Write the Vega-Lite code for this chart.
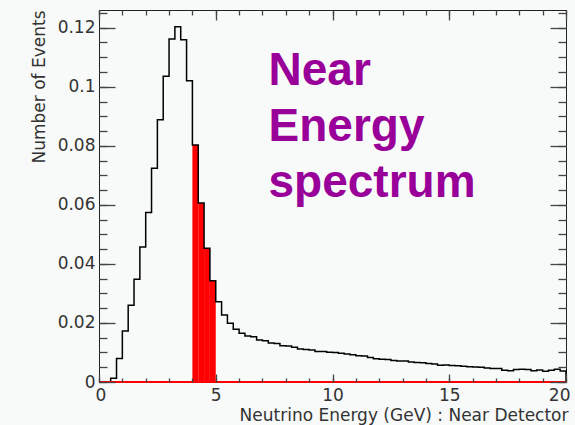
{
  "$schema": "https://vega.github.io/schema/vega-lite/v6.json",
  "width": 467,
  "height": 372,
  "autosize": {"type": "none"},
  "padding": {"left": 99, "top": 10, "right": 9, "bottom": 43},
  "background": "#f7faf8",
  "config": {
    "view": {"stroke": "#222", "strokeWidth": 1},
    "axis": {
      "grid": false,
      "domain": false,
      "labelFont": "DejaVu Sans",
      "labelFontSize": 17,
      "labelColor": "#333",
      "titleFont": "DejaVu Sans",
      "titleFontSize": 17,
      "titleColor": "#333",
      "titleFontWeight": "normal"
    }
  },
  "data": {
    "values": [
      {"lo": 0, "hi": 0.25, "n": 0},
      {"lo": 0.25, "hi": 0.5, "n": 0},
      {"lo": 0.5, "hi": 0.75, "n": 0.0013},
      {"lo": 0.75, "hi": 1.0, "n": 0.008},
      {"lo": 1.0, "hi": 1.25, "n": 0.0173},
      {"lo": 1.25, "hi": 1.5, "n": 0.026},
      {"lo": 1.5, "hi": 1.75, "n": 0.0348},
      {"lo": 1.75, "hi": 2.0, "n": 0.0457},
      {"lo": 2.0, "hi": 2.25, "n": 0.0574},
      {"lo": 2.25, "hi": 2.5, "n": 0.0724},
      {"lo": 2.5, "hi": 2.75, "n": 0.0888},
      {"lo": 2.75, "hi": 3.0, "n": 0.1036},
      {"lo": 3.0, "hi": 3.25, "n": 0.1162},
      {"lo": 3.25, "hi": 3.5, "n": 0.1203},
      {"lo": 3.5, "hi": 3.75, "n": 0.1159},
      {"lo": 3.75, "hi": 4.0, "n": 0.102},
      {"lo": 4.0, "hi": 4.25, "n": 0.0803},
      {"lo": 4.25, "hi": 4.5, "n": 0.0606},
      {"lo": 4.5, "hi": 4.75, "n": 0.0453},
      {"lo": 4.75, "hi": 5.0, "n": 0.0343},
      {"lo": 5.0, "hi": 5.25, "n": 0.0272},
      {"lo": 5.25, "hi": 5.5, "n": 0.0227},
      {"lo": 5.5, "hi": 5.75, "n": 0.0199},
      {"lo": 5.75, "hi": 6.0, "n": 0.0179},
      {"lo": 6.0, "hi": 6.25, "n": 0.0165},
      {"lo": 6.25, "hi": 6.5, "n": 0.0156},
      {"lo": 6.5, "hi": 6.75, "n": 0.0153},
      {"lo": 6.75, "hi": 7.0, "n": 0.0142},
      {"lo": 7.0, "hi": 7.25, "n": 0.014},
      {"lo": 7.25, "hi": 7.5, "n": 0.0132},
      {"lo": 7.5, "hi": 7.75, "n": 0.013},
      {"lo": 7.75, "hi": 8.0, "n": 0.0123},
      {"lo": 8.0, "hi": 8.25, "n": 0.0122},
      {"lo": 8.25, "hi": 8.5, "n": 0.0118},
      {"lo": 8.5, "hi": 8.75, "n": 0.0112},
      {"lo": 8.75, "hi": 9.0, "n": 0.011},
      {"lo": 9.0, "hi": 9.25, "n": 0.0108},
      {"lo": 9.25, "hi": 9.5, "n": 0.0103},
      {"lo": 9.5, "hi": 9.75, "n": 0.0103},
      {"lo": 9.75, "hi": 10.0, "n": 0.0101},
      {"lo": 10.0, "hi": 10.25, "n": 0.01},
      {"lo": 10.25, "hi": 10.5, "n": 0.0097},
      {"lo": 10.5, "hi": 10.75, "n": 0.0095},
      {"lo": 10.75, "hi": 11.0, "n": 0.0092},
      {"lo": 11.0, "hi": 11.25, "n": 0.0089},
      {"lo": 11.25, "hi": 11.5, "n": 0.0088},
      {"lo": 11.5, "hi": 11.75, "n": 0.0083},
      {"lo": 11.75, "hi": 12.0, "n": 0.0079},
      {"lo": 12.0, "hi": 12.25, "n": 0.0077},
      {"lo": 12.25, "hi": 12.5, "n": 0.0076},
      {"lo": 12.5, "hi": 12.75, "n": 0.0073},
      {"lo": 12.75, "hi": 13.0, "n": 0.0071},
      {"lo": 13.0, "hi": 13.25, "n": 0.0071},
      {"lo": 13.25, "hi": 13.5, "n": 0.0068},
      {"lo": 13.5, "hi": 13.75, "n": 0.0066},
      {"lo": 13.75, "hi": 14.0, "n": 0.0065},
      {"lo": 14.0, "hi": 14.25, "n": 0.0063},
      {"lo": 14.25, "hi": 14.5, "n": 0.0061},
      {"lo": 14.5, "hi": 14.75, "n": 0.0057},
      {"lo": 14.75, "hi": 15.0, "n": 0.0058},
      {"lo": 15.0, "hi": 15.25, "n": 0.0056},
      {"lo": 15.25, "hi": 15.5, "n": 0.0055},
      {"lo": 15.5, "hi": 15.75, "n": 0.0053},
      {"lo": 15.75, "hi": 16.0, "n": 0.0052},
      {"lo": 16.0, "hi": 16.25, "n": 0.0051},
      {"lo": 16.25, "hi": 16.5, "n": 0.005},
      {"lo": 16.5, "hi": 16.75, "n": 0.0047},
      {"lo": 16.75, "hi": 17.0, "n": 0.0046},
      {"lo": 17.0, "hi": 17.25, "n": 0.0046},
      {"lo": 17.25, "hi": 17.5, "n": 0.004},
      {"lo": 17.5, "hi": 17.75, "n": 0.0038},
      {"lo": 17.75, "hi": 18.0, "n": 0.0042},
      {"lo": 18.0, "hi": 18.25, "n": 0.0043},
      {"lo": 18.25, "hi": 18.5, "n": 0.0042},
      {"lo": 18.5, "hi": 18.75, "n": 0.0038},
      {"lo": 18.75, "hi": 19.0, "n": 0.0041},
      {"lo": 19.0, "hi": 19.25, "n": 0.0036},
      {"lo": 19.25, "hi": 19.5, "n": 0.004},
      {"lo": 19.5, "hi": 19.75, "n": 0.0043},
      {"lo": 19.75, "hi": 20.0, "n": 0.0037},
      {"lo": 20.0, "hi": 20.0, "n": 0}
    ]
  },
  "resolve": {"axis": {"x": "independent", "y": "independent"}},
  "layer": [
    {
      "transform": [{"filter": "datum.lo >= 4 && datum.lo < 5"}],
      "mark": {"type": "rect", "color": "#ff0000"},
      "encoding": {
        "x": {
          "field": "lo", "type": "quantitative",
          "scale": {"domain": [0, 20], "nice": false, "zero": false},
          "axis": {
            "orient": "bottom", "values": [0, 5, 10, 15, 20], "format": "d",
            "ticks": false, "labelPadding": 5, "labelFlush": true, "labelFlushOffset": 4,
            "title": "Neutrino Energy (GeV) : Near Detector",
            "titleX": 469, "titleY": 38, "titleAlign": "right", "titleBaseline": "alphabetic"
          }
        },
        "x2": {"field": "hi"},
        "y": {
          "field": "n", "type": "quantitative",
          "scale": {"domain": [0, 0.126], "nice": false, "zero": true},
          "axis": {
            "orient": "left", "values": [0, 0.02, 0.04, 0.06, 0.08, 0.1, 0.12], "format": ".2~f",
            "ticks": false, "labelPadding": 4, "labelFlush": false,
            "title": "Number of Events",
            "titleX": -55, "titleY": 0, "titleAlign": "right", "titleAngle": -90, "titleBaseline": "alphabetic"
          }
        },
        "y2": {"datum": 0}
      }
    },
    {
      "mark": {"type": "line", "interpolate": "step-after", "color": "#000000", "strokeWidth": 1.5},
      "encoding": {
        "x": {
          "field": "lo", "type": "quantitative",
          "axis": {"orient": "bottom", "values": [0, 5, 10, 15, 20], "labels": false, "ticks": true, "tickSize": 8, "offset": -8, "title": null, "zindex": 2, "tickColor": "#444444", "tickWidth": 1.3}
        },
        "y": {
          "field": "n", "type": "quantitative",
          "axis": {"orient": "left", "values": [0, 0.02, 0.04, 0.06, 0.08, 0.1, 0.12], "labels": false, "ticks": true, "tickSize": 16, "offset": -16, "title": null, "zindex": 2, "tickColor": "#444444", "tickWidth": 1.3}
        }
      }
    },
    {
      "data": {"values": [{"id": "baseline"}]},
      "mark": {"type": "rule", "color": "#ff0000", "strokeWidth": 2},
      "encoding": {
        "x": {
          "datum": 0, "type": "quantitative",
          "axis": {"orient": "bottom", "values": [0,1,2,3,4,5,6,7,8,9,10,11,12,13,14,15,16,17,18,19,20], "labels": false, "ticks": true, "tickSize": 4, "offset": -4, "title": null, "zindex": 2, "tickColor": "#444444", "tickWidth": 1.3}
        },
        "x2": {"datum": 20},
        "y": {
          "datum": 0, "type": "quantitative",
          "axis": {"orient": "left", "values": [0,0.005,0.01,0.015,0.02,0.025,0.03,0.035,0.04,0.045,0.05,0.055,0.06,0.065,0.07,0.075,0.08,0.085,0.09,0.095,0.1,0.105,0.11,0.115,0.12,0.125], "labels": false, "ticks": true, "tickSize": 8, "offset": -8, "title": null, "zindex": 2, "tickColor": "#444444", "tickWidth": 1.3}
        }
      }
    },
    {
      "data": {"values": [{"label": "Near\nEnergy\nspectrum"}]},
      "mark": {
        "type": "text", "lineBreak": "\n", "font": "Liberation Sans", "fontWeight": "bold",
        "fontSize": 46, "color": "#990099", "align": "left", "baseline": "alphabetic", "lineHeight": 56
      },
      "encoding": {
        "text": {"field": "label"},
        "x": {
          "datum": 7.26, "type": "quantitative",
          "axis": {"orient": "top", "values": [0, 5, 10, 15, 20], "labels": false, "ticks": true, "tickSize": 10, "offset": -10, "title": null, "zindex": 2, "tickColor": "#444444", "tickWidth": 1.3}
        },
        "y": {
          "datum": 0.1006, "type": "quantitative",
          "axis": {"orient": "right", "values": [0, 0.02, 0.04, 0.06, 0.08, 0.1, 0.12], "labels": false, "ticks": true, "tickSize": 16, "offset": -16, "title": null, "zindex": 2, "tickColor": "#444444", "tickWidth": 1.3}
        }
      }
    },
    {
      "data": {"values": [{"id": "frame"}]},
      "mark": {"type": "point", "opacity": 0},
      "encoding": {
        "x": {
          "datum": 0, "type": "quantitative",
          "axis": {"orient": "top", "values": [0,1,2,3,4,5,6,7,8,9,10,11,12,13,14,15,16,17,18,19,20], "labels": false, "ticks": true, "tickSize": 5, "offset": -5, "title": null, "zindex": 2, "tickColor": "#444444", "tickWidth": 1.3}
        },
        "y": {
          "datum": 0, "type": "quantitative",
          "axis": {"orient": "right", "values": [0,0.005,0.01,0.015,0.02,0.025,0.03,0.035,0.04,0.045,0.05,0.055,0.06,0.065,0.07,0.075,0.08,0.085,0.09,0.095,0.1,0.105,0.11,0.115,0.12,0.125], "labels": false, "ticks": true, "tickSize": 8, "offset": -8, "title": null, "zindex": 2, "tickColor": "#444444", "tickWidth": 1.3}
        }
      }
    }
  ]
}
